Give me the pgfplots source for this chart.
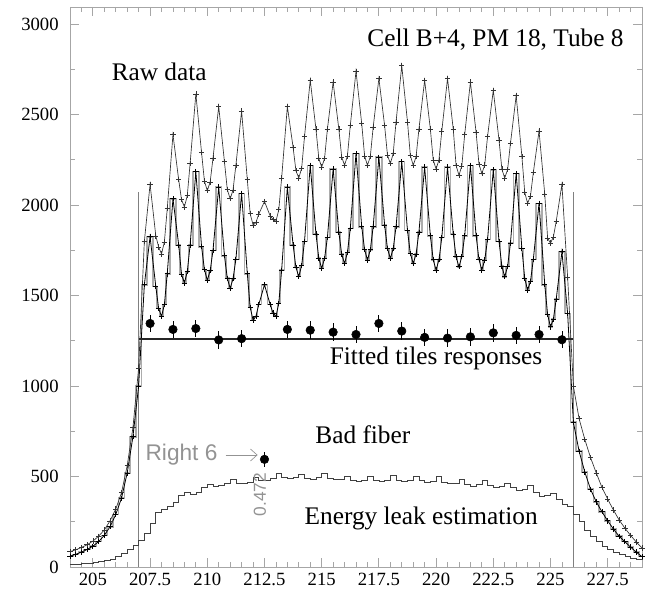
\documentclass[border=0pt]{standalone}
\usepackage{pgfplots}
\pgfplotsset{compat=1.18}
\usepackage{pgfplotstable}
\usepackage{fontspec}
\setmainfont{Liberation Serif}
\newfontfamily\helv{Liberation Sans}
\usetikzlibrary{arrows.meta}

% scan data: x, upper raw curve, lower raw curve
\pgfplotstableread{
x top low
204.00 85 60
204.25 95 70
204.50 108 82
204.75 123 97
205.00 143 115
205.25 170 140
205.50 205 175
205.75 255 222
206.00 320 290
206.25 410 380
206.50 560 520
206.75 770 720
207.00 1100 1000
207.25 1800 1560
207.50 2115 1825
207.75 1830 1550
207.875 1768 1429
208.00 1730 1385
208.125 1796 1450
208.25 1980 1620
208.50 2390 2035
208.75 2140 1780
208.875 2030 1617
209.00 1990 1570
209.125 2052 1632
209.25 2230 1780
209.50 2615 2185
209.75 2290 1770
209.875 2133 1645
210.00 2080 1585
210.125 2127 1637
210.25 2260 1750
210.50 2545 2100
210.75 2240 1720
210.875 2086 1596
211.00 2035 1540
211.125 2083 1593
211.25 2220 1700
211.50 2520 2065
211.75 2140 1620
211.875 1953 1435
212.00 1890 1365
212.125 1903 1385
212.25 1950 1450
212.50 2020 1560
212.75 1940 1450
212.875 1921 1403
213.00 1910 1385
213.125 1974 1457
213.25 2150 1640
213.50 2545 2100
213.75 2320 1780
213.875 2190 1655
214.00 2150 1605
214.125 2204 1667
214.25 2380 1800
214.50 2690 2220
214.75 2420 1840
214.875 2258 1707
215.00 2210 1650
215.125 2257 1705
215.25 2420 1820
215.50 2680 2200
215.75 2420 1850
215.875 2266 1729
216.00 2220 1677
216.125 2272 1738
216.25 2440 1870
216.50 2740 2285
216.75 2450 1880
216.875 2272 1755
217.00 2220 1696
217.125 2268 1753
217.25 2430 1880
217.50 2700 2265
217.75 2440 1890
217.875 2277 1761
218.00 2230 1705
218.125 2284 1759
218.25 2460 1880
218.50 2770 2240
218.75 2460 1860
218.875 2275 1733
219.00 2220 1677
219.125 2267 1730
219.25 2420 1850
219.50 2690 2210
219.75 2420 1830
219.875 2249 1698
220.00 2200 1641
220.125 2250 1698
220.25 2410 1820
220.50 2700 2210
220.75 2420 1840
220.875 2219 1714
221.00 2165 1659
221.125 2217 1715
221.25 2390 1830
221.50 2680 2220
221.75 2400 1830
221.875 2226 1699
222.00 2175 1641
222.125 2221 1696
222.25 2380 1810
222.50 2635 2195
222.75 2360 1800
222.875 2199 1663
223.00 2150 1604
223.125 2196 1661
223.25 2340 1790
223.50 2605 2175
223.75 2270 1760
223.875 2070 1595
224.00 2010 1530
224.125 2050 1578
224.25 2180 1700
224.50 2410 2010
224.75 2060 1560
224.875 1817 1395
225.00 1790 1327
225.125 1823 1369
225.25 1910 1480
225.50 2115 1742
225.75 1600 1400
226.00 1000 800
226.25 820 640
226.50 705 525
226.75 605 430
227.00 520 360
227.25 440 305
227.50 375 255
227.75 315 210
228.00 260 170
228.25 215 140
228.50 175 110
228.75 138 82
229.00 105 57
}\raw

% energy leak estimation
\pgfplotstableread{
x leak
204.00 15
204.25 17
204.50 19
204.75 22
205.00 25
205.25 30
205.50 36
205.75 45
206.00 58
206.25 75
206.50 95
206.75 118
207.00 145
207.25 185
207.50 240
207.75 300
208.00 320
208.25 335
208.50 360
208.75 395
209.00 415
209.25 400
209.50 410
209.75 440
210.00 455
210.25 445
210.50 450
210.75 460
211.00 485
211.25 465
211.50 460
211.75 470
212.00 495
212.25 480
212.50 478
212.75 490
213.00 520
213.25 498
213.50 490
213.75 495
214.00 510
214.25 490
214.50 485
214.75 495
215.00 520
215.25 490
215.50 482
215.75 485
216.00 500
216.25 478
216.50 472
216.75 478
217.00 500
217.25 478
217.50 472
217.75 480
218.00 508
218.25 480
218.50 472
218.75 478
219.00 500
219.25 478
219.50 470
219.75 475
220.00 500
220.25 470
220.50 462
220.75 465
221.00 482
221.25 458
221.50 445
221.75 455
222.00 480
222.25 450
222.50 440
222.75 445
223.00 462
223.25 440
223.50 425
223.75 430
224.00 450
224.25 410
224.50 390
224.75 395
225.00 408
225.25 375
225.50 345
225.75 338
226.00 290
226.25 250
226.50 205
226.75 168
227.00 140
227.25 115
227.50 96
227.75 80
228.00 68
228.25 57
228.50 50
228.75 43
229.00 38
}\leak

% fitted tile responses
\pgfplotstableread{
x y e
207.5 1346 48
208.5 1313 48
209.5 1318 48
210.5 1255 48
211.5 1262 48
212.5 595 40
213.5 1313 48
214.5 1309 48
215.5 1298 48
216.5 1285 48
217.5 1346 48
218.5 1304 48
219.5 1269 48
220.5 1265 48
221.5 1272 48
222.5 1294 48
223.5 1280 48
224.5 1285 48
225.5 1256 48
}\fitpts

\begin{document}
\begin{tikzpicture}
\begin{axis}[
  name=main,
  width=429pt, height=420pt, scale only axis,
  xmin=204, xmax=229, ymin=0, ymax=3095,
  xtick distance=2.5, ytick distance=500,
  minor x tick num=4, minor y tick num=1,
  tick align=inside,
  major tick length=7pt, minor tick length=3.5pt,
  axis line style={gray!70, line width=0.6pt},
  tick style={gray!70, line width=0.6pt},
  tick label style={font=\rmfamily\fontsize{14}{16}\selectfont},
  /pgf/number format/assume math mode=true,
  /pgf/number format/1000 sep={},
  scaled ticks=false,
  yticklabel style={xshift=-5pt},
  xticklabel style={yshift=-1pt},
  clip=false,
]
% boundaries of the scanned cell
\addplot[gray, line width=0.5pt] coordinates {(207,0) (207,2070)};
\addplot[gray, line width=0.5pt] coordinates {(226,0) (226,2070)};

% energy leak
\addplot[black!75, line width=0.5pt, const plot] table[x=x, y=leak] {\leak};

% raw data
\addplot[gray!65, line width=1.2pt, const plot mark mid] table[x=x, y=low] {\raw};
\addplot[black, line width=0.6pt, mark=+, mark size=2pt] table[x=x, y=low] {\raw};
\addplot[black!80, line width=0.5pt, mark=+, mark size=2pt] table[x=x, y=top] {\raw};

% fitted level
\addplot[black!85, line width=1.5pt] coordinates {(207,1258) (226,1258)};

% tile responses
\addplot[only marks, mark=*, mark size=3.2pt, black,
  error bars/.cd, y dir=both, y explicit, error mark=none,
  error bar style={black, line width=0.6pt}]
  table[x=x, y=y, y error=e] {\fitpts};

\begin{scope}[font=\fontsize{19}{22}\selectfont]
\node[anchor=east] at (axis cs:228.4,2912) {Cell B+4, PM 18, Tube 8};
\node at (axis cs:207.9,2735) {Raw data};
\node at (axis cs:220.0,1155) {Fitted tiles responses};
\node at (axis cs:216.8,729) {Bad fiber};
\node at (axis cs:219.35,271) {Energy leak estimation};
\end{scope}
\node[gray!85, anchor=east, font=\helv\fontsize{17}{19}\selectfont] at (axis cs:210.65,619) {Right 6};
\draw[gray!85, line width=0.5pt, -{Straight Barb[length=5pt, width=9pt]}] (axis cs:210.8,619) -- (axis cs:212.2,619);
\node[gray!85, rotate=90, font=\helv\fontsize{13}{15}\selectfont] at (axis cs:212.3,400) {0.472};
\end{axis}
\pgfresetboundingbox
\path[use as bounding box] ([xshift=-52.5pt,yshift=-18pt]main.south west) rectangle ([xshift=4.5pt,yshift=5.25pt]main.north east);
\end{tikzpicture}
\end{document}
